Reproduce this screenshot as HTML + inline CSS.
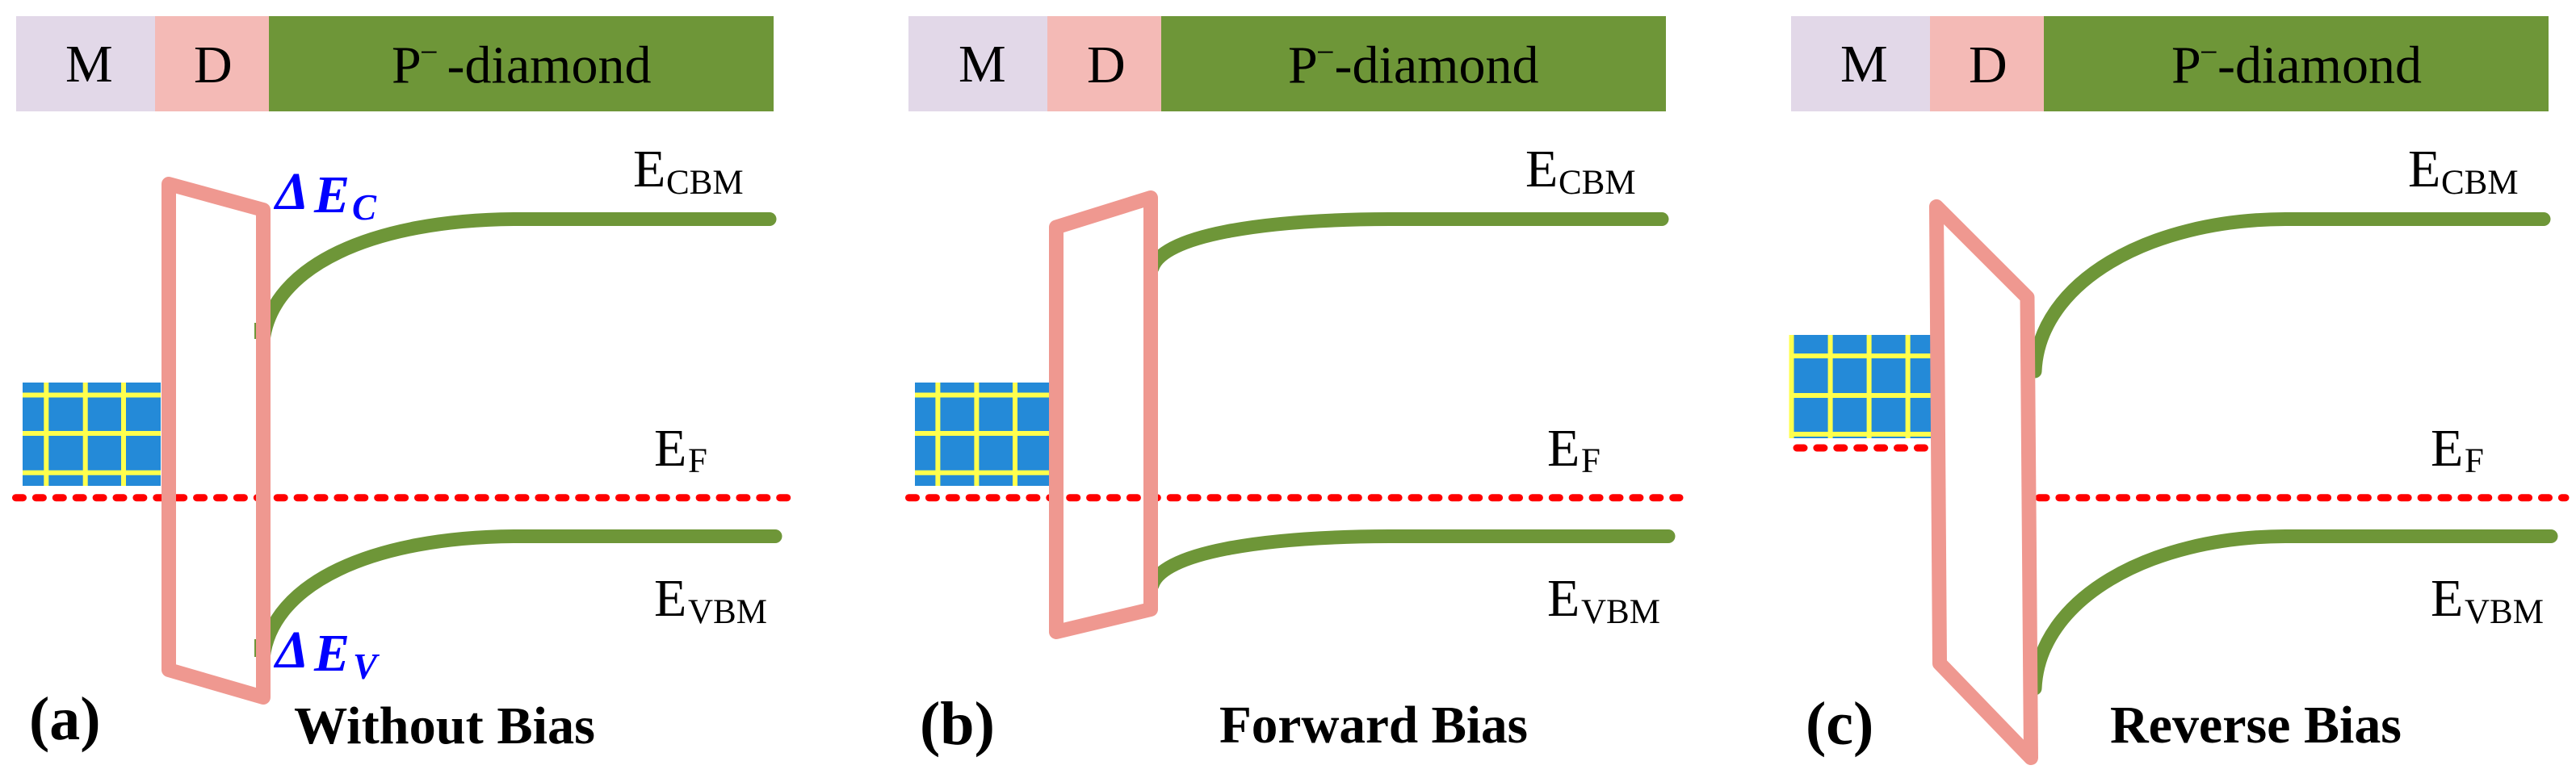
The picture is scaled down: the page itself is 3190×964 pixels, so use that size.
<!DOCTYPE html>
<html><head><meta charset="utf-8"><style>
html,body{margin:0;padding:0;background:#fff}
svg{display:block}
text{font-family:"Liberation Serif",serif;fill:#000}
.t{font-size:66px}.s{font-size:43px}.b{font-size:66px;font-weight:bold}.l{font-size:76px;font-weight:bold}.m{font-size:40px}
.d{font-size:66px;font-weight:bold;font-style:italic;fill:#0000ff}.ds{font-size:45px;font-weight:bold;font-style:italic;fill:#0000ff}
.g{fill:none;stroke:#6e9638;stroke-width:17;stroke-linecap:round}
.p{fill:none;stroke:#ef9890;stroke-width:18;stroke-linejoin:round}
.r{stroke:#ff0000;stroke-width:9;stroke-linecap:round;stroke-dasharray:9 15.9;fill:none}
.y{stroke:#ffff4d;stroke-width:6;fill:none}
</style></head><body>
<svg width="3190" height="964" viewBox="0 0 3190 964" xmlns="http://www.w3.org/2000/svg">
<rect width="3190" height="964" fill="#fff"/>

<!-- Panel a -->
<rect x="20" y="20" width="172" height="118" fill="#e2d8e8"/>
<rect x="192" y="20" width="141" height="118" fill="#f4bab6"/>
<rect x="333" y="20" width="625" height="118" fill="#6e9638"/>
<text class="t" x="81" y="101">M</text><text class="t" x="240" y="102">D</text>
<text class="t" x="485" y="102.5">P</text><text class="m" x="520" y="78">−</text><text class="t" x="553.5" y="102.5">-diamond</text>
<rect x="28" y="474" width="171" height="128" fill="#248ad8"/>
<path class="y" d="M57.3 474V602M105.7 474V602M153 474V602M28 489.5H199M28 537H199M28 585.7H199"/>
<path class="r" d="M19.5 616.7H975"/>
<path class="g" d="M326 422C337 330 460 272 640 271.5L953 271.5"/>
<path class="g" d="M326 815C337 723 460 665 640 664.5L960 664.5"/>
<rect x="315" y="400" width="5" height="20" fill="#6e9638"/>
<rect x="315" y="792" width="5" height="22" fill="#6e9638"/>
<path class="p" d="M209 228L326 260V864L209 830Z"/>
<text class="t" x="784" y="231">E</text><text class="s" x="825" y="240">CBM</text>
<text class="t" x="810" y="577">E</text><text class="s" x="852" y="585">F</text>
<text class="t" x="810" y="763">E</text><text class="s" x="852" y="772">VBM</text>
<text class="d" x="341" y="259">Δ</text><text class="d" x="389" y="263">E</text><text class="ds" x="436" y="272">C</text>
<text class="d" x="341" y="827">Δ</text><text class="d" x="389" y="831">E</text><text class="ds" x="437" y="841">V</text>
<text class="l" x="36" y="916">(a)</text>
<text class="b" x="364" y="921" textLength="373" lengthAdjust="spacingAndGlyphs">Without Bias</text>

<!-- Panel b -->
<rect x="1125" y="20" width="172" height="118" fill="#e2d8e8"/>
<rect x="1297" y="20" width="141" height="118" fill="#f4bab6"/>
<rect x="1438" y="20" width="625" height="118" fill="#6e9638"/>
<text class="t" x="1187" y="101">M</text><text class="t" x="1346" y="102">D</text>
<text class="t" x="1595" y="102.5">P</text><text class="m" x="1630" y="78">−</text><text class="t" x="1652.5" y="102.5">-diamond</text>
<rect x="1133" y="474" width="171" height="128" fill="#248ad8"/>
<path class="y" d="M1161.4 474V602M1209.4 474V602M1257 474V602M1133 489.5H1304M1133 537H1304M1133 585.7H1304"/>
<path class="r" d="M1125.5 616.7H2080"/>
<path class="g" d="M1427 332C1440 292 1560 272 1720 271.5L2058 271.5"/>
<path class="g" d="M1427 725C1440 685 1560 665 1720 664.5L2066 664.5"/>
<path class="p" d="M1308 281.5L1425 245V755L1308 783Z"/>
<text class="t" x="1889" y="231">E</text><text class="s" x="1930" y="240">CBM</text>
<text class="t" x="1916" y="577">E</text><text class="s" x="1958" y="585">F</text>
<text class="t" x="1916" y="763">E</text><text class="s" x="1958" y="772">VBM</text>
<text class="l" x="1139" y="922">(b)</text>
<text class="b" x="1510" y="920" textLength="382" lengthAdjust="spacingAndGlyphs">Forward Bias</text>

<!-- Panel c -->
<rect x="2218" y="20" width="172" height="118" fill="#e2d8e8"/>
<rect x="2390" y="20" width="141" height="118" fill="#f4bab6"/>
<rect x="2531" y="20" width="625" height="118" fill="#6e9638"/>
<text class="t" x="2279" y="101">M</text><text class="t" x="2438" y="102">D</text>
<text class="t" x="2689" y="102.5">P</text><text class="m" x="2724" y="78">−</text><text class="t" x="2746" y="102.5">-diamond</text>
<rect x="2218" y="415" width="177" height="128" fill="#248ad8"/>
<path class="y" d="M2218.5 415V543M2266.6 415V543M2314.6 415V543M2362.6 415V543M2216 441H2395M2216 490H2395M2216 538H2395"/>
<path class="r" d="M2225 555H2387"/>
<path class="r" d="M2525 616.7H3177"/>
<path class="g" d="M2520 460C2525 350 2660 272 2830 271.5L3150 271.5"/>
<path class="g" d="M2520 853C2525 743 2660 665 2830 664.5L3159 664.5"/>
<path class="p" d="M2398 256L2510.5 368.5L2515 939L2402 822Z"/>
<text class="t" x="2982" y="231">E</text><text class="s" x="3023" y="240">CBM</text>
<text class="t" x="3010" y="577">E</text><text class="s" x="3052" y="585">F</text>
<text class="t" x="3010" y="763">E</text><text class="s" x="3052" y="772">VBM</text>
<text class="l" x="2236" y="922">(c)</text>
<text class="b" x="2613" y="920" textLength="361" lengthAdjust="spacingAndGlyphs">Reverse Bias</text>
</svg>
</body></html>
